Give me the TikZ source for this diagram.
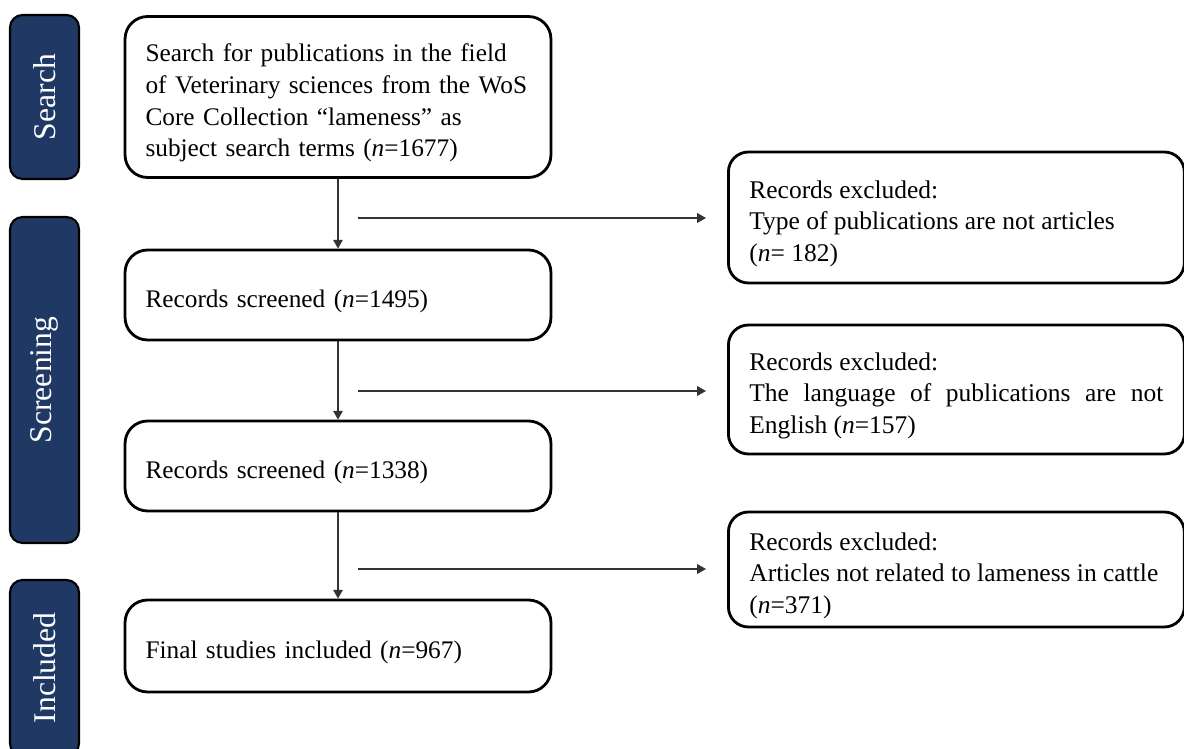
\documentclass[tikz,border=0pt]{standalone}
\usepackage{fontspec}
\setmainfont{Liberation Serif}
\usepackage{xcolor}
\usepackage{tikz}
\usetikzlibrary{arrows.meta}
\definecolor{stagenavy}{RGB}{31,56,100}

\begin{document}
\begin{tikzpicture}[x=0.02cm, y=-0.02cm,
    stagebar/.style={draw=black, line width=1.2pt, fill=stagenavy, rounded corners=0.25cm,
        text=white, rotate=90, inner sep=0pt, font=\fontsize{18}{20}\selectfont},
    flowbox/.style={draw=black, line width=1.6pt, rounded corners=0.45cm, text width=7.7cm,
        align=left, inner xsep=0.41cm, inner ysep=0pt, font=\fontsize{14.4}{18}\selectfont,
        execute at begin node={\rule{0pt}{17pt}}},
    exclbox/.style={draw=black, line width=1.6pt, rounded corners=0.4cm, text width=8.28cm,
        align=justify, inner xsep=0.42cm, inner ysep=0pt, anchor=west,
        font=\fontsize{14.5}{18}\selectfont, execute at begin node={\rule{0pt}{17pt}}},
    flowarrow/.style={draw=black!80, line width=0.6pt, -{Triangle[length=5pt,width=5.5pt]}}]
            \useasboundingbox (0,0) rectangle (1184,749);

            % stages
            \node[stagebar, minimum width=3.28cm, minimum height=1.38cm] (search) at (44.5, 97) {Search};
            \node[stagebar, minimum width=6.52cm, minimum height=1.38cm] (screening) at (44.5, 380) {Screening};
            \node[stagebar, minimum width=3.52cm, minimum height=1.38cm] (included) at (44.5, 668) {Included};

            % main column
            \node[flowbox, minimum height=3.22cm] (query) at (338, 97)
                {Search for publications in the field\\
                 of Veterinary sciences from the WoS\\
                 Core Collection “lameness” as\\
                 subject search terms (\textit{n}=1677)};
            \node[flowbox, minimum height=1.8cm] (screenA) at (338, 295) {Records screened (\textit{n}=1495)};
            \node[flowbox, minimum height=1.8cm] (screenB) at (338, 466) {Records screened (\textit{n}=1338)};
            \node[flowbox, minimum height=1.84cm] (final) at (338, 646) {Final studies included (\textit{n}=967)};

            % excluded records
            \node[exclbox, minimum height=2.62cm] (exclA) at (727, 217.5)
                {Records excluded:\\ Type of publications are not articles\\ (\textit{n}= 182)};
            \node[exclbox, minimum height=2.58cm] (exclB) at (727, 389.5)
                {Records excluded:\\ The language of publications are not\linebreak English (\textit{n}=157)};
            \node[exclbox, minimum height=2.3cm] (exclC) at (727, 569.5)
                {Records excluded:\\ Articles not related to lameness in cattle\\ (\textit{n}=371)};

            \draw[flowarrow] (query.south) -- (screenA.north);
            \draw[flowarrow] (screenA.south) -- (screenB.north);
            \draw[flowarrow] (screenB.south) -- (final.north);

            \coordinate (gapA) at (358, 218);
            \coordinate (gapB) at (358, 391);
            \coordinate (gapC) at (358, 569);
            \draw[flowarrow, shorten >=0.42cm] (gapA) -- (gapA -| exclA.west);
            \draw[flowarrow, shorten >=0.42cm] (gapB) -- (gapB -| exclB.west);
            \draw[flowarrow, shorten >=0.42cm] (gapC) -- (gapC -| exclC.west);
        \end{tikzpicture}
\end{document}
